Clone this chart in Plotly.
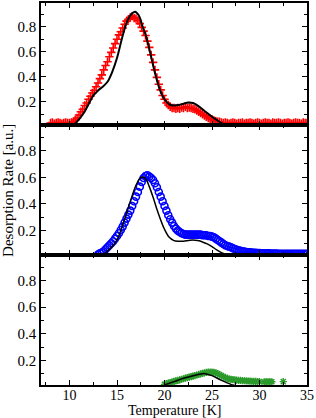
import plotly.graph_objects as go
from plotly.subplots import make_subplots

# ---------------- data ----------------
red_temp = [8.0, 8.2, 8.4, 8.6, 8.8, 9.0, 9.2, 9.4, 9.6, 9.8,
            10.0, 10.2, 10.4, 10.6, 10.8, 11.0, 11.2, 11.4, 11.6, 11.8,
            12.0, 12.2, 12.4, 12.6, 12.8, 13.0, 13.2, 13.4, 13.6, 13.8,
            14.0, 14.2, 14.4, 14.6, 14.8, 15.0, 15.2, 15.4, 15.6, 15.8,
            16.0, 16.2, 16.4, 16.6, 16.8, 17.0, 17.2, 17.4, 17.6, 17.8,
            18.0, 18.2, 18.4, 18.6, 18.8, 19.0, 19.2, 19.4, 19.6, 19.8,
            20.0, 20.2, 20.4, 20.6, 20.8, 21.0, 21.2, 21.4, 21.6, 21.8,
            22.0, 22.2, 22.4, 22.6, 22.8, 23.0, 23.2, 23.4, 23.6, 23.8,
            24.0, 24.2, 24.4, 24.6, 24.8, 25.0, 25.2, 25.4, 25.6, 25.8,
            26.0, 26.2, 26.4, 26.6, 26.8, 27.0, 27.2, 27.4, 27.6, 27.8,
            28.0, 28.2, 28.4, 28.6, 28.8, 29.0, 29.2, 29.4, 29.6, 29.8,
            30.0, 30.2, 30.4, 30.6, 30.8, 31.0, 31.2, 31.4, 31.6, 31.8,
            32.0, 32.2, 32.4, 32.6, 32.8, 33.0, 33.2, 33.4, 33.6, 33.8,
            34.0, 34.2, 34.4, 34.6, 34.8, 35.0]
red_rate = [0.030, 0.035, 0.025, 0.030, 0.035, 0.030, 0.025, 0.030, 0.035, 0.030,
            0.030, 0.035, 0.040, 0.055, 0.070, 0.095, 0.120, 0.140, 0.170, 0.190,
            0.220, 0.245, 0.270, 0.290, 0.320, 0.350, 0.385, 0.415, 0.455, 0.490,
            0.520, 0.560, 0.595, 0.630, 0.665, 0.700, 0.735, 0.760, 0.790, 0.820,
            0.845, 0.860, 0.875, 0.885, 0.870, 0.865, 0.850, 0.825, 0.795, 0.765,
            0.730, 0.685, 0.635, 0.575, 0.515, 0.455, 0.395, 0.340, 0.295, 0.250,
            0.220, 0.190, 0.175, 0.160, 0.150, 0.150, 0.145, 0.150, 0.145, 0.155,
            0.150, 0.160, 0.150, 0.155, 0.150, 0.145, 0.140, 0.130, 0.120, 0.110,
            0.100, 0.090, 0.080, 0.070, 0.065, 0.060, 0.050, 0.045, 0.040, 0.040,
            0.035, 0.030, 0.035, 0.030, 0.025, 0.030, 0.035, 0.030, 0.025, 0.030,
            0.030, 0.035, 0.025, 0.030, 0.030, 0.035, 0.030, 0.025, 0.030, 0.035,
            0.030, 0.025, 0.030, 0.035, 0.030, 0.030, 0.025, 0.035, 0.030, 0.030,
            0.035, 0.030, 0.025, 0.030, 0.030, 0.035, 0.030, 0.025, 0.030, 0.035,
            0.030, 0.030, 0.025, 0.035, 0.030, 0.030]

model1_temp = [10.0, 10.5, 11.0, 11.5, 12.0, 12.5, 13.0, 13.5, 14.0, 14.5, 15.0,
               15.5, 16.0, 16.5, 16.9, 17.3, 17.7, 18.0, 18.5, 19.0, 19.5, 20.0,
               20.5, 21.0, 21.5, 22.0, 22.5, 23.0, 23.5, 24.0, 24.5, 25.0, 25.5,
               26.0, 26.5, 27.0, 28.0]
model1_rate = [0.0, 0.02, 0.06, 0.11, 0.18, 0.25, 0.29, 0.32, 0.36, 0.44, 0.55,
               0.70, 0.83, 0.90, 0.92, 0.89, 0.80, 0.74, 0.59, 0.43, 0.30, 0.22,
               0.18, 0.17, 0.175, 0.185, 0.195, 0.19, 0.17, 0.14, 0.11, 0.08, 0.055,
               0.03, 0.012, 0.0, 0.0]

blue_temp = [13.0, 13.2, 13.4, 13.6, 13.8, 14.0, 14.2, 14.4, 14.6, 14.8,
             15.0, 15.2, 15.4, 15.6, 15.8, 16.0, 16.2, 16.4, 16.6, 16.8,
             17.0, 17.2, 17.4, 17.6, 17.8, 18.0, 18.2, 18.4, 18.6, 18.8,
             19.0, 19.2, 19.4, 19.6, 19.8, 20.0, 20.2, 20.4, 20.6, 20.8,
             21.0, 21.2, 21.4, 21.6, 21.8, 22.0, 22.2, 22.4, 22.6, 22.8,
             23.0, 23.2, 23.4, 23.6, 23.8, 24.0, 24.2, 24.4, 24.6, 24.8,
             25.0, 25.2, 25.4, 25.6, 25.8, 26.0, 26.2, 26.4, 26.6, 26.8,
             27.0, 27.2, 27.4, 27.6, 27.8, 28.0, 28.2, 28.4, 28.6, 28.8,
             29.0, 29.2, 29.4, 29.6, 29.8, 30.0, 30.2, 30.4, 30.6, 30.8,
             31.0, 31.2, 31.4, 31.6, 31.8, 32.0, 32.2, 32.4, 32.6, 32.8,
             33.0, 33.2, 33.4, 33.6, 33.8, 34.0, 34.2, 34.4, 34.6, 34.8,
             35.0]
blue_rate = [0.020, 0.030, 0.035, 0.045, 0.060, 0.075, 0.090, 0.105, 0.120, 0.140,
             0.160, 0.180, 0.205, 0.230, 0.260, 0.290, 0.320, 0.350, 0.385, 0.420,
             0.455, 0.490, 0.530, 0.565, 0.595, 0.610, 0.615, 0.605, 0.595, 0.580,
             0.555, 0.525, 0.490, 0.455, 0.420, 0.385, 0.350, 0.315, 0.285, 0.260,
             0.235, 0.215, 0.200, 0.190, 0.180, 0.175, 0.170, 0.170, 0.170, 0.170,
             0.170, 0.170, 0.170, 0.170, 0.170, 0.165, 0.165, 0.165, 0.160, 0.160,
             0.155, 0.150, 0.140, 0.130, 0.120, 0.110, 0.100, 0.090, 0.085, 0.080,
             0.075, 0.068, 0.062, 0.057, 0.052, 0.048, 0.045, 0.043, 0.040, 0.038,
             0.037, 0.035, 0.034, 0.033, 0.032, 0.031, 0.030, 0.030, 0.030, 0.029,
             0.029, 0.028, 0.028, 0.028, 0.028, 0.027, 0.027, 0.027, 0.027, 0.027,
             0.027, 0.027, 0.027, 0.027, 0.027, 0.026, 0.026, 0.026, 0.026, 0.026,
             0.026]

model2_temp = [13.3, 13.9, 14.5, 15.0, 15.5, 16.0, 16.5, 17.0, 17.5, 17.8, 18.1,
               18.4, 18.8, 19.2, 19.6, 20.0, 20.5, 21.0, 21.5, 22.0, 22.5, 23.0,
               23.5, 24.0, 24.5, 25.0, 25.5, 26.0, 26.5, 27.0, 27.5]
model2_rate = [0.0, 0.04, 0.08, 0.13, 0.22, 0.33, 0.44, 0.54, 0.60, 0.60, 0.58,
               0.53, 0.45, 0.36, 0.28, 0.21, 0.15, 0.125, 0.12, 0.12, 0.125, 0.13,
               0.125, 0.115, 0.10, 0.08, 0.055, 0.035, 0.02, 0.01, 0.0]

green_temp = [20.0, 20.2, 20.4, 20.6, 20.8, 21.0, 21.2, 21.4, 21.6, 21.8,
              22.0, 22.2, 22.4, 22.6, 22.8, 23.0, 23.2, 23.4, 23.6, 23.8,
              24.0, 24.2, 24.4, 24.6, 24.8, 25.0, 25.2, 25.4, 25.6, 25.8,
              26.0, 26.2, 26.4, 26.6, 26.8, 27.0, 27.2, 27.4, 27.6, 27.8,
              28.0, 28.2, 28.4, 28.6, 28.8, 29.0, 29.2, 29.4, 29.6, 29.8,
              30.0, 30.5, 30.7, 30.9, 31.1, 31.3, 32.5]
green_rate = [0.020, 0.025, 0.030, 0.033, 0.037, 0.042, 0.046, 0.050, 0.054, 0.058,
              0.062, 0.066, 0.070, 0.074, 0.078, 0.082, 0.086, 0.090, 0.094, 0.098,
              0.102, 0.106, 0.109, 0.111, 0.112, 0.112, 0.110, 0.106, 0.100, 0.093,
              0.085, 0.078, 0.070, 0.065, 0.060, 0.057, 0.055, 0.053, 0.051, 0.050,
              0.049, 0.048, 0.047, 0.046, 0.045, 0.044, 0.043, 0.042, 0.042, 0.041,
              0.040, 0.038, 0.040, 0.038, 0.040, 0.039, 0.040]

model3_temp = [20.0, 21.0, 22.0, 23.0, 24.0, 24.3, 25.0, 26.0, 27.0, 27.5, 28.0]
model3_rate = [0.015, 0.04, 0.065, 0.085, 0.10, 0.10, 0.085, 0.05, 0.02, 0.01, 0.0]

x_ticks = [10, 15, 20, 25, 30, 35]

# ---------------- figure ----------------
SERIF = "Liberation Serif, Times New Roman, serif"
fig = make_subplots(rows=3, cols=1, shared_xaxes=True, vertical_spacing=0)

fig.add_trace(go.Scatter(x=red_temp, y=red_rate, mode="markers",
                         marker=dict(symbol="cross-thin-open", size=6, color="#ff0000",
                                     line=dict(color="#ff0000", width=1.6)),
                         showlegend=False), row=1, col=1)
fig.add_trace(go.Scatter(x=model1_temp, y=model1_rate, mode="lines",
                         line=dict(color="black", width=2, shape="spline"),
                         showlegend=False), row=1, col=1)

fig.add_trace(go.Scatter(x=blue_temp, y=blue_rate, mode="markers",
                         marker=dict(symbol="circle-open", size=7, color="#0000ff",
                                     line=dict(color="#0000ff", width=1.6)),
                         showlegend=False), row=2, col=1)
fig.add_trace(go.Scatter(x=model2_temp, y=model2_rate, mode="lines",
                         line=dict(color="black", width=1.5, shape="spline"),
                         showlegend=False), row=2, col=1)

fig.add_trace(go.Scatter(x=green_temp, y=green_rate, mode="markers",
                         marker=dict(symbol="asterisk-open", size=6, color="#2a9a2a",
                                     line=dict(color="#2a9a2a", width=1.4)),
                         showlegend=False), row=3, col=1)
fig.add_trace(go.Scatter(x=model3_temp, y=model3_rate, mode="lines",
                         line=dict(color="black", width=1.5, shape="spline"),
                         showlegend=False), row=3, col=1)

tick_font = dict(family=SERIF, size=15, color="black")
xtick_font = dict(family=SERIF, size=14, color="black")
domains = {1: [0.6798, 1.0], 2: [0.3403, 0.6798], 3: [0.0, 0.3403]}
y_ranges = {1: [0.012, 0.99], 2: [0.017, 0.99], 3: [0.015, 0.99]}

for r in (1, 2, 3):
    fig.update_xaxes(range=[7, 35], tickvals=x_ticks, ticks="inside", ticklen=5,
                     tickwidth=1, tickcolor="black", showline=True, linewidth=1.5,
                     linecolor="black", mirror="allticks", showgrid=False,
                     zeroline=False, showticklabels=(r == 3), tickfont=xtick_font,
                     ticklabelstandoff=-4,
                     minor=dict(tickvals=[7.5, 12.5, 17.5, 22.5, 27.5, 32.5],
                                ticks="inside", ticklen=3, tickcolor="black",
                                tickwidth=1, showgrid=False),
                     row=r, col=1)
    fig.update_yaxes(range=y_ranges[r], domain=domains[r],
                     tickvals=[0.2, 0.4, 0.6, 0.8], ticktext=["0.2", "0.4", "0.6", "0.8"],
                     ticks="inside", ticklen=5, tickwidth=1, tickcolor="black",
                     showline=True, linewidth=1.5, linecolor="black",
                     mirror="allticks", showgrid=False, zeroline=False,
                     tickfont=tick_font,
                     minor=dict(tickvals=[0.1, 0.3, 0.5, 0.7, 0.9], ticks="inside",
                                ticklen=3, tickcolor="black", tickwidth=1,
                                showgrid=False),
                     row=r, col=1)

fig.add_annotation(text="Temperature [K]",
                   xref="paper", yref="paper", x=0.5, y=-0.0675,
                   xanchor="center", yanchor="middle", showarrow=False,
                   font=dict(family=SERIF, size=14, color="black"))

fig.add_annotation(text="Desorption Rate [a.u.]", textangle=-90,
                   xref="paper", yref="paper", x=-0.125, y=0.51,
                   xanchor="center", yanchor="middle", showarrow=False,
                   font=dict(family=SERIF, size=15, color="black"))

fig.update_layout(width=316, height=418, plot_bgcolor="white", paper_bgcolor="white",
                  font=dict(family=SERIF, size=15, color="black"),
                  margin=dict(l=41, r=9, t=3, b=33, autoexpand=False), showlegend=False)

fig.write_html("out.html", config={"displayModeBar": False},
               post_script="document.body.style.margin='0';document.body.style.overflow='hidden';")
